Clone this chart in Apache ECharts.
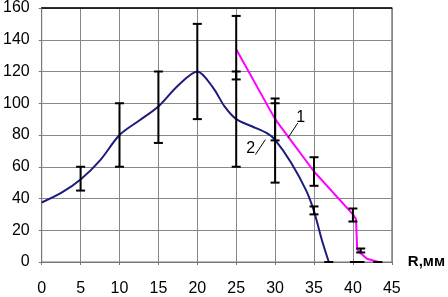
<!DOCTYPE html>
<html><head><meta charset="utf-8">
<script src="https://cdn.jsdelivr.net/npm/echarts@6/dist/echarts.min.js"></script>
<style>html,body{margin:0;padding:0;background:#fff}#c{width:448px;height:297px}</style>
</head><body><div id="c"></div>
<script>
// Curve 2 (blue): [R, value]
var blueCurve = [[0,37.5],[2.5,43.5],[5,52],[7.5,64],[10,80],[12.5,89],[15,98],[17.5,111],[20,120],[22,110],[23.5,98],[25,90],[27,85.5],[29,81],[30,77],[32,63],[34,45],[35,32],[36,14],[36.9,0]];
// Curve 1 (magenta)
var pinkCurve = [[25,134],[30,90],[35,57],[40,30],[40.4,27],[40.55,8],[41,5.5],[41.8,2],[43.3,0]];
// Error bars: [R, low, high]
var blueErr = [[5,45,60],[10,60,100],[15,75,120],[20,90,150],[25,60,120],[30,50,100],[35,30,35],[36.9,0,0]];
var pinkErr = [[25,115,155],[30,76.6,103],[35,48,66],[40,25.5,33.7],[41,6,8.5],[40.2,0,0],[40.9,0,0],[43.2,0,0]];
// Annotation labels: [text, labelX, labelY, leaderX1, leaderY1, leaderX2, leaderY2]
var annotations = [["1",33.3,91.1,31.64,78.1,32.91,87.5],["2",26.85,71.4,27.48,67.7,28.75,77.1]];
var xTicks = {min:0, max:45, interval:5};
var yTicks = {min:0, max:160, interval:20};

var FONT = '"Liberation Sans", Arial, sans-serif';
function errItem(params, api){
  var x = api.value(0), lo = api.value(1), hi = api.value(2);
  var p1 = api.coord([x, lo]), p2 = api.coord([x, hi]);
  var w = 4.5;
  var st = {stroke:'#000', lineWidth:2};
  var ch = [];
  if (hi !== lo) ch.push({type:'line', shape:{x1:p1[0],y1:p1[1],x2:p2[0],y2:p2[1]}, style:st});
  ch.push({type:'line', shape:{x1:p1[0]-w,y1:p1[1],x2:p1[0]+w,y2:p1[1]}, style:st});
  if (hi !== lo) ch.push({type:'line', shape:{x1:p2[0]-w,y1:p2[1],x2:p2[0]+w,y2:p2[1]}, style:st});
  return {type:'group', children:ch};
}
var chart = echarts.init(document.getElementById('c'), null, {renderer:'canvas'});
chart.setOption({
  animation:false,
  grid:{left:38, right:56, top:7, bottom:34, show:true, borderColor:'#777', borderWidth:1},
  xAxis:[{
    type:'value', min:xTicks.min, max:xTicks.max, interval:xTicks.interval,
    name:'R,мм', nameLocation:'end', nameGap:16,
    nameTextStyle:{fontFamily:FONT, fontSize:15, fontWeight:'bold', color:'#000', verticalAlign:'middle'},
    axisLine:{lineStyle:{color:'#777', width:1}},
    axisTick:{show:true, length:3, lineStyle:{color:'#777'}},
    axisLabel:{fontFamily:FONT, fontSize:16, color:'#000', margin:19},
    splitLine:{show:true, lineStyle:{color:'#888', width:1}}
  },{
    type:'value', position:'top', min:xTicks.min, max:xTicks.max,
    axisLine:{show:true, lineStyle:{color:'#000', width:1.5}},
    axisTick:{show:false}, axisLabel:{show:false}, splitLine:{show:false}
  }],
  yAxis:{
    type:'value', min:yTicks.min, max:yTicks.max, interval:yTicks.interval,
    axisLine:{show:true, lineStyle:{color:'#777'}},
    axisTick:{show:true, length:3, lineStyle:{color:'#777'}},
    axisLabel:{fontFamily:FONT, fontSize:16, color:'#000', margin:12},
    splitLine:{show:true, lineStyle:{color:'#888', width:1}}
  },
  series:[
    {type:'line', data:blueCurve, smooth:0.3, showSymbol:false, lineStyle:{color:'#1c1c7e', width:2}, z:3},
    {type:'line', data:pinkCurve, smooth:false, showSymbol:false, lineStyle:{color:'#ff00ff', width:2}, z:3},
    {type:'custom', data:blueErr, renderItem:errItem, z:4},
    {type:'custom', data:pinkErr, renderItem:errItem, z:4}
  ]
});
var g = [];
annotations.forEach(function(a){
  var p = chart.convertToPixel({gridIndex:0}, [a[1], a[2]]);
  var l1 = chart.convertToPixel({gridIndex:0}, [a[3], a[4]]);
  var l2 = chart.convertToPixel({gridIndex:0}, [a[5], a[6]]);
  g.push({type:'text', x:p[0], y:p[1], z:10, style:{text:a[0], fontFamily:FONT, fontSize:16, fill:'#000', align:'center', verticalAlign:'middle'}});
  g.push({type:'line', z:10, shape:{x1:l1[0],y1:l1[1],x2:l2[0],y2:l2[1]}, style:{stroke:'#000', lineWidth:1}});
});
chart.setOption({graphic:g});
</script></body></html>
